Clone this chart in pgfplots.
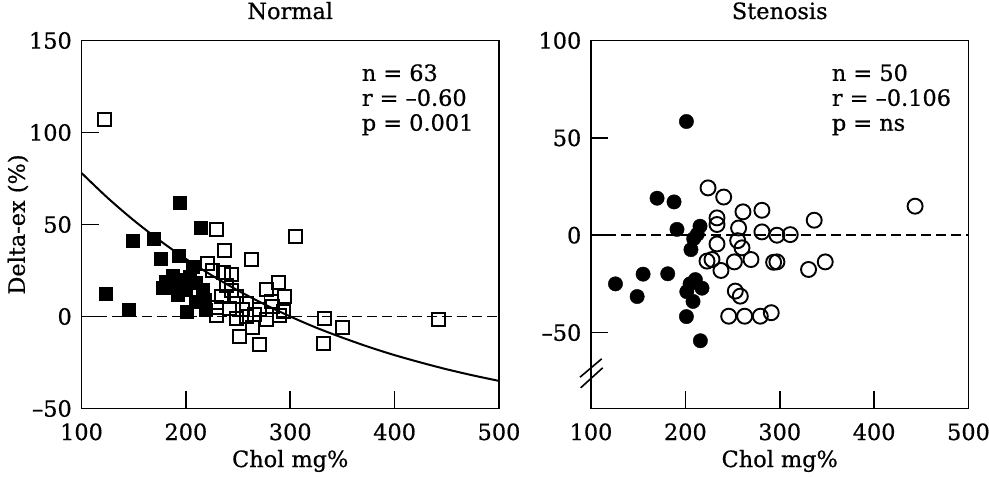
\documentclass[border=0pt]{standalone}
\usepackage{pgfplots}
\pgfplotsset{compat=1.18}
\usepackage{fontspec}
\setmainfont{DejaVu Serif}[FakeBold=0.6]

\pgfplotstableread{
x y
194.1 61.6
214.8 48.0
148.9 40.8
169.2 42.0
175.9 31.2
193.4 33.0
123.4 12.3
145.7 3.3
201.1 2.7
218.9 3.6
206.8 26.8
181.3 19.0
184.5 15.4
194.0 19.9
192.5 11.8
203.6 21.7
210.0 18.1
216.4 14.5
218.0 9.1
178.0 15.4
200.4 14.5
188.0 22.0
186.0 18.0
210.0 8.0
197.0 16.0
}\normalfilled

\pgfplotstableread{
x y
122.4 107.2
229.1 47.5
304.9 43.5
237.1 35.9
262.5 31.2
221.1 29.0
225.9 25.0
236.0 23.8
243.4 23.0
238.6 17.0
288.6 18.5
276.9 14.9
294.4 10.7
248.2 10.7
233.9 10.9
257.8 7.3
229.1 5.0
241.8 4.5
270.5 4.0
283.2 5.5
293.4 2.7
229.1 0.5
248.2 -1.2
257.8 0.2
276.9 -1.8
289.6 0.5
264.1 -5.8
251.4 -11.0
270.5 -15.2
332.6 -0.9
350.1 -5.8
331.6 -14.9
442.4 -1.8
281.6 8.0
254.6 3.6
266.0 1.0
244.0 14.0
}\normalopen

\pgfplotstableread{
x y
201.1 58.4
170.0 19.0
188.0 17.1
191.1 3.0
215.5 4.6
212.6 0.5
208.8 -1.8
205.9 -7.4
125.9 -25.0
155.2 -20.0
148.9 -31.5
181.3 -19.8
210.6 -22.8
201.5 -29.0
217.6 -27.2
208.1 -34.0
201.1 -41.8
215.9 -54.2
205.0 -25.0
}\stenfilled

\pgfplotstableread{
x y
224.0 24.3
240.6 19.6
443.4 14.9
261.0 12.0
281.1 12.8
336.5 7.7
233.5 8.9
233.5 5.5
256.4 3.7
281.1 1.7
297.0 0.0
311.1 0.3
233.5 -4.5
255.4 -2.8
260.0 -6.5
222.9 -13.3
228.2 -12.5
237.7 -18.1
251.9 -13.7
269.5 -12.5
293.5 -13.9
297.0 -13.7
330.5 -17.6
348.2 -13.7
252.9 -28.7
258.2 -31.3
245.9 -41.6
262.8 -41.6
279.4 -41.6
291.0 -39.8
}\stenopen

\begin{document}
\fontsize{22.5}{25}\selectfont
\begin{tikzpicture}[font=\fontsize{22.5}{25}\selectfont]
\useasboundingbox (0,0) rectangle (989bp,477bp);
\pgfplotsset{
  myaxis/.style={
    scale only axis, clip=false,
    axis line style={line width=1.6bp},
    tick align=inside, xtick pos=left, ytick pos=left,
    major tick length=17bp,
    every tick/.style={line width=1.6bp, black},
    xtick={100,200,300,400,500},
    xticklabels={100,200,300,400,500},
    xticklabel style={anchor=base, yshift=-31.5bp, inner sep=0pt},
    yticklabel style={anchor=east, inner sep=0pt, xshift=-9.5bp},
    xmin=100, xmax=500,
  },
  zeroline/.style={black, line width=1.7bp, dash pattern=on 10bp off 5bp},
  opensq/.style={only marks, mark=square, mark size=6.5bp, mark options={line width=1.9bp, draw=black, fill=none}},
  fillsq/.style={only marks, mark=square*, mark size=6.5bp, mark options={line width=1bp, draw=black, fill=black}},
  opencirc/.style={only marks, mark=o, mark size=7.5bp, mark options={line width=1.9bp, draw=black, fill=none}},
  fillcirc/.style={only marks, mark=*, mark size=7.2bp, mark options={draw=black, fill=black}},
}

% ---------------- Normal ----------------
\begin{axis}[myaxis,
  at={(81.5bp,68.5bp)}, anchor=south west,
  width=417.5bp, height=368bp,
  ymin=-50, ymax=150,
  ytick={-50,0,50,100,150},
  yticklabels={–50,0,50,100,150},
]
\addplot[zeroline] coordinates {(100,0) (500,0)};
\addplot[black, line width=2bp, smooth] coordinates {
(100,78.0) (125,64.5) (150,52.3) (175,41.3) (200,31.3) (225,22.3) (250,14.1)
(275,6.7) (300,0.0) (325,-6.1) (350,-11.5) (375,-16.5) (400,-21.0)
(425,-25.0) (450,-28.7) (475,-32.0) (500,-35.0)};
\addplot[fillsq] table[x=x,y=y] {\normalfilled};
\addplot[opensq] table[x=x,y=y] {\normalopen};
\node[anchor=north west, align=left, inner sep=0pt] at (rel axis cs:0.671,0.936) {n = 63\\r = –0.60\\p = 0.001};
\node[anchor=base] at ([yshift=21.5bp]rel axis cs:0.5,1) {Normal};
\node[anchor=base] at ([yshift=-58.5bp]rel axis cs:0.5,0) {Chol mg\%};
\node[rotate=90, anchor=center] at ([xshift=-63.5bp]rel axis cs:0,0.5) {Delta-ex (\%)};
\end{axis}

% ---------------- Stenosis ----------------
\begin{axis}[myaxis,
  at={(591bp,68.5bp)}, anchor=south west,
  width=377.5bp, height=368bp,
  ymin=-89, ymax=100,
  ytick={-50,0,50,100},
  yticklabels={–50,0,50,100},
]
\addplot[zeroline] coordinates {(100,0) (500,0)};
\addplot[fillcirc] table[x=x,y=y] {\stenfilled};
\addplot[opencirc] table[x=x,y=y] {\stenopen};
\node[anchor=north west, align=left, inner sep=0pt] at (rel axis cs:0.6376,0.936) {n = 50\\r = –0.106\\p = ns};
\node[anchor=base] at ([yshift=21.5bp]rel axis cs:0.5,1) {Stenosis};
\node[anchor=base] at ([yshift=-58.5bp]rel axis cs:0.5,0) {Chol mg\%};
\draw[line width=1.6bp] ([xshift=-11bp,yshift=31.3bp]rel axis cs:0,0) -- ++(21.7bp,18.4bp);
\draw[line width=1.6bp] ([xshift=-10.3bp,yshift=20.7bp]rel axis cs:0,0) -- ++(22bp,20bp);
\end{axis}
\end{tikzpicture}
\end{document}
